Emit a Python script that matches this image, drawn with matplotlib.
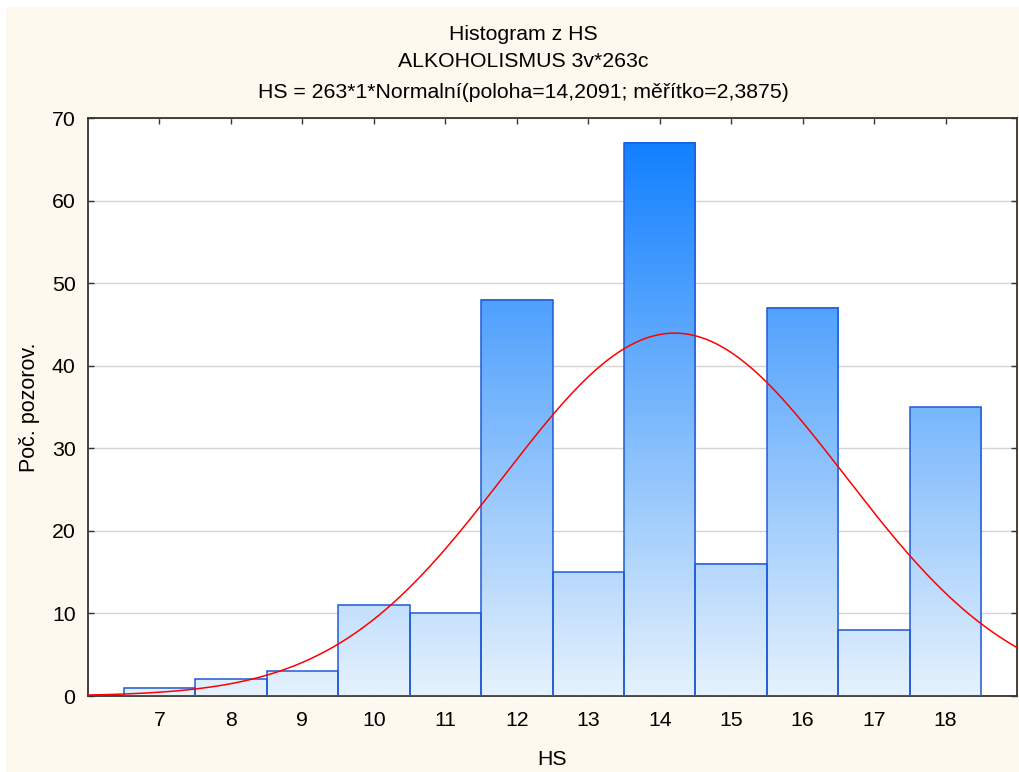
import numpy as np
import matplotlib
matplotlib.use("Agg")
import matplotlib.pyplot as plt
from matplotlib.colors import LinearSegmentedColormap
from matplotlib.patches import Rectangle

plt.rcParams['font.family'] = ['Liberation Sans', 'DejaVu Sans']

categories = [7, 8, 9, 10, 11, 12, 13, 14, 15, 16, 17, 18]
counts = [1, 2, 3, 11, 10, 48, 15, 67, 16, 47, 8, 35]
n_total = 263
loc = 14.2091
scale = 2.3875
x_ticks = [7, 8, 9, 10, 11, 12, 13, 14, 15, 16, 17, 18]
y_ticks = [0, 10, 20, 30, 40, 50, 60, 70]

title_lines = ["Histogram z HS", "ALKOHOLISMUS 3v*263c",
               "HS = 263*1*Normalní(poloha=14,2091; měřítko=2,3875)"]

W, H = 1019, 772
fig = plt.figure(figsize=(W / 100, H / 100), dpi=100)
fig.patch.set_facecolor('white')
# cream panel
fig.add_artist(Rectangle((6 / W, 0), 1 - 6 / W, 1 - 7 / H, transform=fig.transFigure,
                         facecolor='#fdf9ee', edgecolor='none', zorder=-10))

ax = fig.add_axes([88 / W, 1 - 696 / H, (1017 - 88) / W, (696 - 118) / H])
ax.set_facecolor('white')

cmap = LinearSegmentedColormap.from_list('bargrad', ['#e6f2fd', '#7cb9fc', '#1280ff'])
vmax = max(counts)
for c, h in zip(categories, counts):
    grad = np.linspace(0, h, 256).reshape(-1, 1)
    ax.imshow(grad, extent=(c - 0.5, c + 0.5, 0, h), origin='lower', cmap=cmap,
              vmin=0, vmax=vmax, aspect='auto', zorder=2, interpolation='bilinear')
ax.bar(categories, counts, width=1.0, fill=False, edgecolor='#1f5bd6', linewidth=1.1, zorder=3)

xs = np.linspace(6, 19, 500)
pdf = n_total * 1 * np.exp(-0.5 * ((xs - loc) / scale) ** 2) / (scale * np.sqrt(2 * np.pi))
ax.plot(xs, pdf, color='#ff0000', linewidth=1.1, zorder=4)

ax.set_xlim(6, 19)
ax.set_ylim(0, 70)
ax.set_xticks(x_ticks)
ax.set_yticks(y_ticks)
ax.yaxis.grid(True, color='#d4d4d4', linewidth=1.0, zorder=0)
ax.set_axisbelow(True)
ax.tick_params(direction='in', length=4, width=1, top=True, right=True,
               labelsize=15.3, colors='#333333', labelcolor='black')
ax.tick_params(axis='x', pad=11)
ax.tick_params(axis='y', pad=9)
for s in ax.spines.values():
    s.set_color('#333333')
    s.set_linewidth(1.3)

fig.text(552 / W, 1 - 765 / H, 'HS', ha='center', va='baseline', fontsize=15.3)
fig.text(30 / W, 1 - 407 / H, 'Poč. pozorov.', ha='center', va='center',
         rotation=90, fontsize=15.5)

baselines = [40, 67, 98]
for t, b in zip(title_lines, baselines):
    fig.text(523 / W, 1 - b / H, t, ha='center', va='baseline', fontsize=15.3)

fig.savefig('out.png', dpi=100)
